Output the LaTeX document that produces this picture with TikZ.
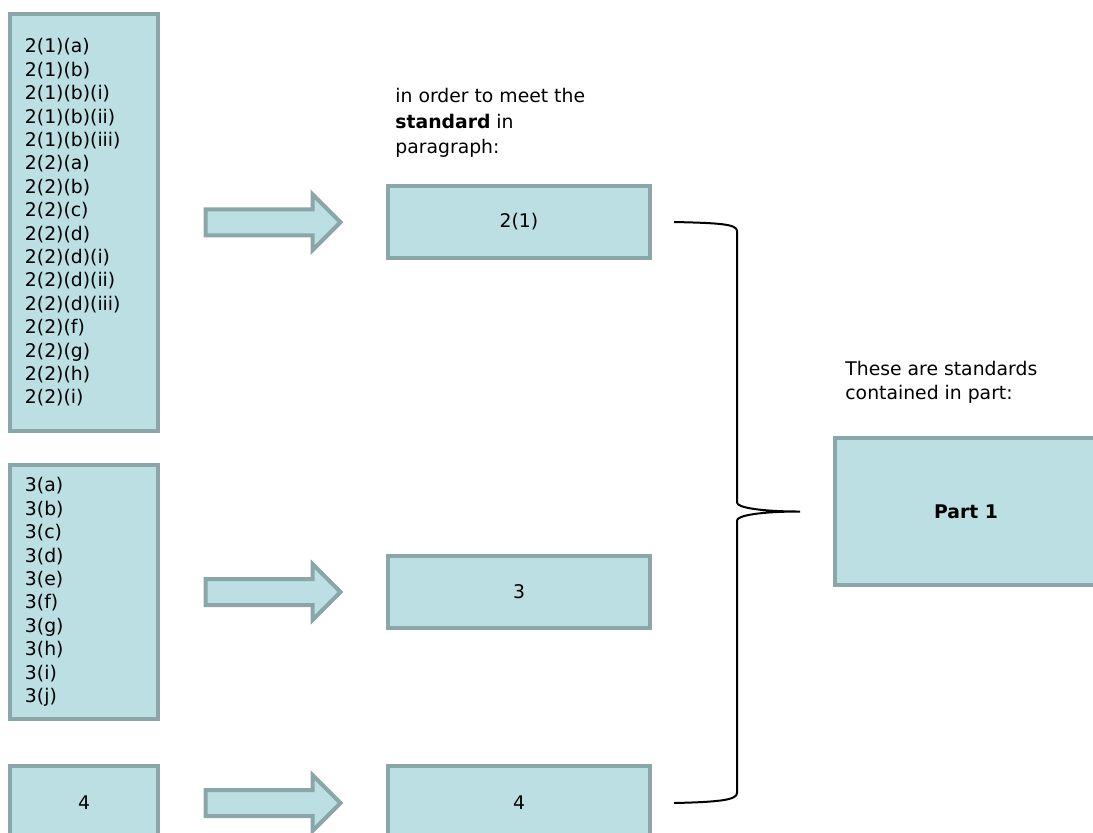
\documentclass[tikz,border=0pt]{standalone}
\usepackage{fontspec}
\setmainfont{DejaVu Sans}
\usepackage{tikz}
\usetikzlibrary{calc, positioning}
\definecolor{boxfill}{RGB}{187,223,226}
\definecolor{boxline}{RGB}{138,166,168}
\tikzset{
  stdbox/.style={
    draw=boxline, fill=boxfill, line width=2pt, align=center,
    font=\fontsize{9.4}{11.7}\selectfont, inner sep=0pt
  },
  listbox/.style={
    stdbox, align=left, text width=59pt, minimum width=74pt
  },
  parabox/.style={
    stdbox, minimum width=131pt, minimum height=36pt
  },
  blockarrow/.style={
    draw=boxline, fill=boxfill, line width=2pt, line join=miter
  },
  bracepen/.style={
    line width=1pt, black
  },
  notetext/.style={
    align=left, inner sep=0pt, anchor=west
  },
}

\begin{document}
\begin{tikzpicture}[x=0.5pt, y=-0.5pt]
  \useasboundingbox (0,0) rectangle (1093,832);
  \clip (0,0) rectangle (1093,832);

  % === Sub-paragraph lists ===
  \node[listbox, minimum height=208.5pt] (list21) at (84,222.5)
    {2(1)(a)\\2(1)(b)\\2(1)(b)(i)\\2(1)(b)(ii)\\2(1)(b)(iii)\\
     2(2)(a)\\2(2)(b)\\2(2)(c)\\2(2)(d)\\2(2)(d)(i)\\2(2)(d)(ii)\\
     2(2)(d)(iii)\\2(2)(f)\\2(2)(g)\\2(2)(h)\\2(2)(i)};
  \node[listbox, minimum height=127pt] (list3) at (84,592)
    {3(a)\\3(b)\\3(c)\\3(d)\\3(e)\\3(f)\\3(g)\\3(h)\\3(i)\\3(j)};
  \node[stdbox, minimum width=74pt, minimum height=37pt] (list4) at (84,803) {4};

  % === Standards (paragraphs) ===
  \node[notetext, font=\fontsize{9.4}{12.75}\selectfont] (paralabel) at (395,123)
    {in order to meet the\\\textbf{standard} in\\paragraph:};
  \node[parabox] (par21) at (519,222) {2(1)};
  \node[parabox] (par3) at (519,592) {3};
  \node[parabox, minimum height=37pt] (par4) at (519,803) {4};

  % === Block arrows ===
  \coordinate (ba1) at ($(list21.east)!0.5!(par21.west)$);
  \coordinate (ba2) at ($(list3.east)!0.5!(par3.west)$);
  \coordinate (ba3) at ($(list4.east)!0.5!(par4.west)$);
  \draw[blockarrow] ($(ba1)+(-67.5,-13)$) -- ++(107,0) -- ++(0,-15) -- ++(28,28) -- ++(-28,28) -- ++(0,-15) -- ++(-107,0) -- cycle;
  \draw[blockarrow] ($(ba2)+(-67.5,-13)$) -- ++(107,0) -- ++(0,-15) -- ++(28,28) -- ++(-28,28) -- ++(0,-15) -- ++(-107,0) -- cycle;
  \draw[blockarrow] ($(ba3)+(-67.5,-13)$) -- ++(107,0) -- ++(0,-15) -- ++(28,28) -- ++(-28,28) -- ++(0,-15) -- ++(-107,0) -- cycle;

  % === Part ===
  \node[notetext, font=\fontsize{9.4}{11.7}\selectfont] (partlabel) at (845,382.5)
    {These are standards\\contained in part:};
  \node[parabox, minimum height=73.5pt] (part1) at (966,511.5) {\textbf{Part 1}};

  % === Brace ===
  \coordinate (brtop) at ($(par21.east)+(22,0)$);
  \coordinate (brbot) at ($(par4.east)+(22,0)$);
  \coordinate (brtip) at ($(part1.west)+(-33,0)$);
  \draw[bracepen] (brtop) .. controls +(45,1) and +(0,-7) .. ($(brtop)+(63,9)$)
    -- ($(brtip)+(-63,-9)$) .. controls +(0,5) and +(-40,0) .. (brtip)
    .. controls +(-40,0) and +(0,-5) .. ($(brtip)+(-63,9)$)
    -- ($(brbot)+(63,-10)$) .. controls +(0,7) and +(45,-1) .. (brbot);

\end{tikzpicture}
\end{document}
